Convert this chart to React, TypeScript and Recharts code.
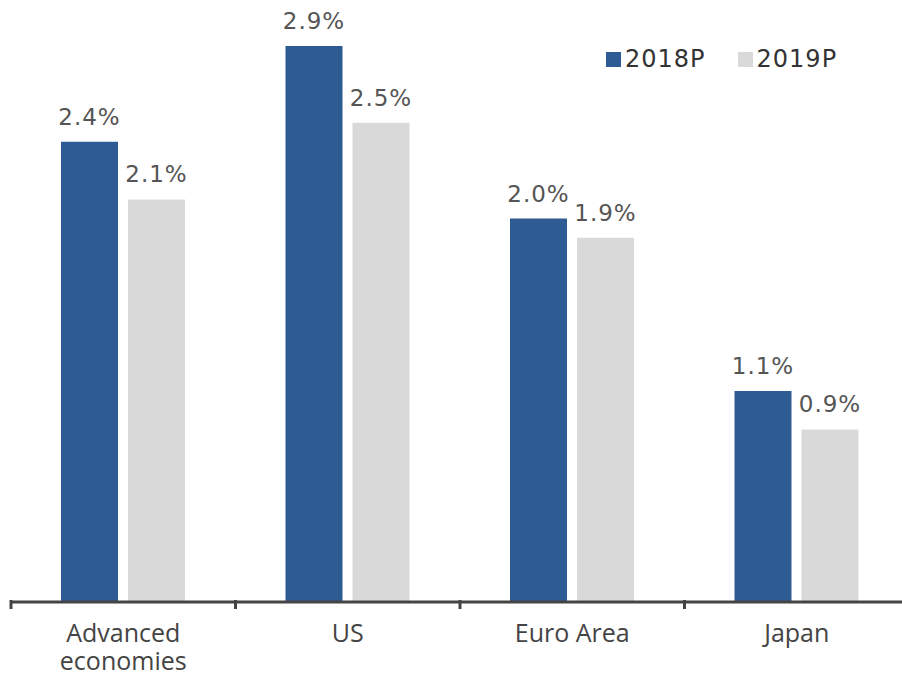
import { BarChart, Bar, XAxis, YAxis, LabelList, Legend } from 'recharts';

const categories = ['Advanced\neconomies', 'US', 'Euro Area', 'Japan'];
const growth2018 = [2.4, 2.9, 2.0, 1.1];
const growth2019 = [2.1, 2.5, 1.9, 0.9];
const seriesNames = ['2018P', '2019P'];

const BLUE = '#2f5b94';
const GREY = '#d9d9d9';

const CHART_W = 920;
const CHART_H = 677;
const MARGIN = { top: 46, right: 11, bottom: 0, left: 11 };
const HALF_BAND = (CHART_W - MARGIN.left - MARGIN.right) / categories.length / 2;

const data = categories.map((name, i) => ({
  name,
  a: growth2018[i],
  b: growth2019[i],
}));

function CategoryTick(props: any) {
  const { x, y, payload, index } = props;
  const lines = String(payload.value).split('\n');
  const half = payload.offset > 0 ? payload.offset : HALF_BAND;
  const axisY = y - 10;
  return (
    <g>
      <line x1={x - half} x2={x - half} y1={axisY} y2={axisY + 9} stroke="#444" strokeWidth={3} />
      {index === categories.length - 1 && (
        <line x1={x + half} x2={x + half} y1={axisY} y2={axisY + 9} stroke="#444" strokeWidth={3} />
      )}
      <text
        x={x}
        y={axisY}
        textAnchor="middle"
        fill="#444"
        fontSize={25}
        fontFamily="'Open Sans', sans-serif"
      >
        {lines.map((l, i) => (
          <tspan key={l} x={x} dy={i === 0 ? 42 : 28}>{l}</tspan>
        ))}
      </text>
    </g>
  );
}

function LegendBox(props: any) {
  const items = props.payload || [];
  return (
    <div style={{ display: 'flex', gap: 32, fontFamily: "'DejaVu Sans', sans-serif", fontSize: 24, color: '#333', letterSpacing: 1 }}>
      {items.map((it: any) => (
        <div key={it.value} style={{ display: 'flex', alignItems: 'center' }}>
          <span style={{ display: 'inline-block', width: 15, height: 15, background: it.color, marginRight: 4 }} />
          <span>{it.value}</span>
        </div>
      ))}
    </div>
  );
}

const labelStyle = { fill: '#555', fontSize: 23, fontFamily: "'DejaVu Sans', sans-serif", letterSpacing: 1 };

export default function App() {
  return (
    <div style={{ position: 'absolute', left: 0, top: 0, width: 902, height: 677, overflow: 'hidden', background: '#fff' }}>
      <BarChart width={CHART_W} height={CHART_H} data={data} margin={MARGIN} barSize={57} barGap={10}>
        <YAxis hide domain={[0, 2.9]} />
        <XAxis
          dataKey="name"
          axisLine={{ stroke: '#444', strokeWidth: 3 }}
          tickLine={false}
          tick={<CategoryTick />}
          interval={0}
          height={75}
        />
        <Legend
          layout="horizontal"
          verticalAlign="middle"
          align="center"
          wrapperStyle={{ top: 45, left: 606, width: 300 }}
          content={<LegendBox />}
        />
        <Bar dataKey="a" name={seriesNames[0]} fill={BLUE} isAnimationActive={false}>
          <LabelList dataKey="a" position="top" offset={17} formatter={(v: any) => `${Number(v).toFixed(1)}%`} style={labelStyle} />
        </Bar>
        <Bar dataKey="b" name={seriesNames[1]} fill={GREY} isAnimationActive={false}>
          <LabelList dataKey="b" position="top" offset={17} formatter={(v: any) => `${Number(v).toFixed(1)}%`} style={labelStyle} />
        </Bar>
      </BarChart>
    </div>
  );
}
